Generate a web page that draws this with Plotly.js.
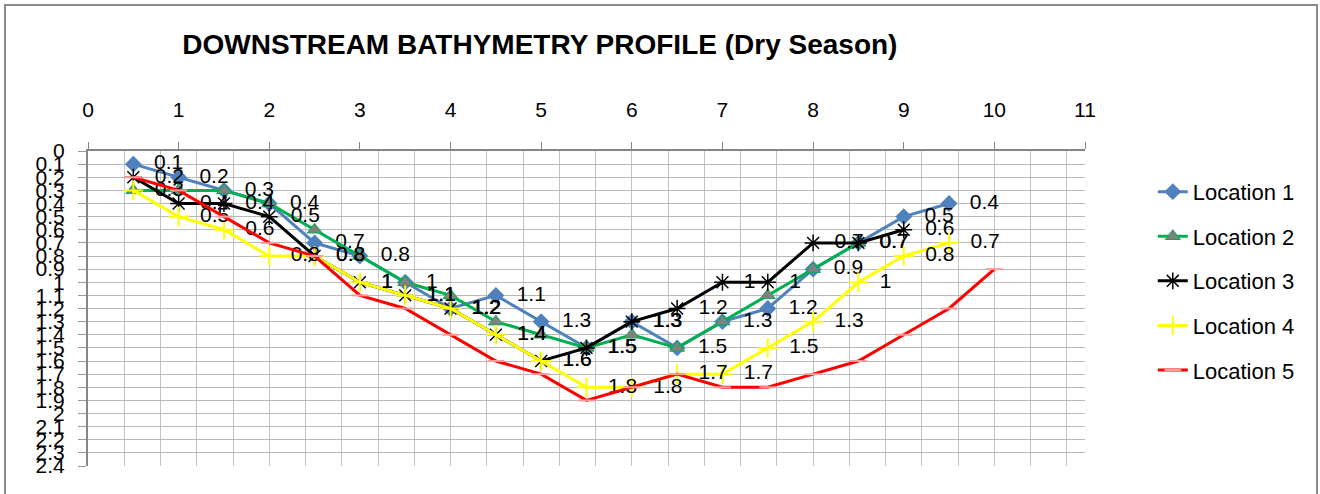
<!DOCTYPE html>
<html>
<head>
<meta charset="utf-8">
<script src="https://cdn.plot.ly/plotly-3.0.1.min.js"></script>
<style>
  body { margin: 0; background: #fff; }
  #wrap { position: relative; width: 1320px; height: 494px; overflow: hidden; }
  #chart { width: 1320px; height: 494px; }
  #frame { position: absolute; left: 4px; top: 4px; width: 1310px; height: 500px;
           border: 2px solid #8a8a8a; pointer-events: none; }
</style>
</head>
<body>
<div id="wrap"><div id="chart"></div><div id="frame"></div></div>
<script>
// Distance along the cross-section (x) and depth values (y) per location
const distances = [0.5, 1, 1.5, 2, 2.5, 3, 3.5, 4, 4.5, 5, 5.5, 6, 6.5, 7, 7.5, 8, 8.5, 9, 9.5, 10];
const location1 = [0.1, 0.2, 0.3, 0.4, 0.7, 0.8, 1.0, 1.2, 1.1, 1.3, 1.5, 1.3, 1.5, 1.3, 1.2, 0.9, 0.7, 0.5, 0.4];
const location2 = [0.3, 0.3, 0.3, 0.4, 0.6, 0.8, 1.0, 1.1, 1.3, 1.4, 1.5, 1.4, 1.5, 1.3, 1.1, 0.9, 0.7];
const location3 = [0.2, 0.4, 0.4, 0.5, 0.8, 1.0, 1.1, 1.2, 1.4, 1.6, 1.5, 1.3, 1.2, 1.0, 1.0, 0.7, 0.7, 0.6];
const location4 = [0.3, 0.5, 0.6, 0.8, 0.8, 1.0, 1.1, 1.2, 1.4, 1.6, 1.8, 1.8, 1.7, 1.7, 1.5, 1.3, 1.0, 0.8, 0.7];
const location5 = [0.2, 0.3, 0.5, 0.7, 0.8, 1.1, 1.2, 1.4, 1.6, 1.7, 1.9, 1.8, 1.7, 1.8, 1.8, 1.7, 1.6, 1.4, 1.2, 0.9];
const seriesNames = ['Location 1', 'Location 2', 'Location 3', 'Location 4', 'Location 5'];
const xTickValues = [0, 1, 2, 3, 4, 5, 6, 7, 8, 9, 10, 11];

const FONT = "'Liberation Sans', Arial, sans-serif";

function labels(vals) { return vals.map(v => '\u00a0\u00a0' + String(v)); }

function makeTrace(vals, name, lineColor, marker, withLabels, group) {
  const t = {
    type: 'scatter',
    x: distances.slice(0, vals.length),
    y: vals,
    name: name,
    legendgroup: group,
    mode: withLabels ? 'lines+markers+text' : 'lines+markers',
    line: { color: lineColor, width: 3 },
    marker: marker,
    cliponaxis: false
  };
  if (withLabels) {
    t.text = labels(vals);
    t.textposition = 'middle right';
    t.textfont = { family: FONT, size: 21, color: '#000' };
  }
  return t;
}

const traces = [
  makeTrace(location1, seriesNames[0], '#4f81bd',
    { symbol: 'diamond', size: 13, color: '#4f81bd' }, true, 'g1'),
  makeTrace(location2, seriesNames[1], '#00b050',
    { symbol: 'triangle-up', size: 13, color: '#808080', line: { color: '#00b050', width: 1 } }, false, 'g2'),
  makeTrace(location3, seriesNames[2], '#000000',
    { symbol: 'asterisk-open', size: 14, color: '#000', line: { color: '#000', width: 1.5 } }, true, 'g3'),
  makeTrace(location4, seriesNames[3], '#ffff00',
    { symbol: 'cross-thin-open', size: 14, color: '#ffff00', line: { color: '#ffff00', width: 2 } }, true, 'g4'),
  makeTrace(location5, seriesNames[4], '#ff0000',
    { symbol: 'line-ew-open', size: 12, color: '#ff9a9a', line: { color: '#ff9a9a', width: 2 } }, false, 'g5')
];

const layout = {
  width: 1320, height: 494,
  margin: { l: 88, r: 235, t: 151, b: 28 },
  paper_bgcolor: '#fff', plot_bgcolor: '#fff',
  showlegend: true,
  title: {
    text: '<b>DOWNSTREAM BATHYMETRY PROFILE (Dry Season)</b>',
    font: { family: FONT, size: 28, color: '#000' },
    xref: 'container', yref: 'container',
    x: 0.409, xanchor: 'center', y: 0.91, yanchor: 'middle'
  },
  xaxis: {
    side: 'top', range: [0, 11], tickvals: xTickValues,
    ticks: 'outside', ticklen: 7, tickcolor: '#868686', tickwidth: 1,
    showline: true, linecolor: '#868686', linewidth: 2,
    showgrid: false, zeroline: false,
    ticklabelstandoff: 17,
    tickfont: { family: FONT, size: 21, color: '#000' },
    minor: { dtick: 0.4, tick0: 0, showgrid: true, gridcolor: '#c3c3c3', gridwidth: 1, ticks: '' }
  },
  yaxis: {
    range: [2.4, 0], dtick: 0.1, tick0: 0,
    ticks: 'outside', ticklen: 8, tickcolor: '#9a9a9a',
    showline: true, linecolor: '#868686', linewidth: 2,
    showgrid: true, gridcolor: '#b8b8b8', gridwidth: 1, zeroline: false,
    ticklabelstandoff: 9,
    tickfont: { family: FONT, size: 21, color: '#000' }
  },
  legend: {
    x: 1.068, xanchor: 'left', y: 0.937, yanchor: 'top',
    font: { family: FONT, size: 22, color: '#000' },
    tracegroupgap: 13, bgcolor: 'rgba(0,0,0,0)'
  }
};

Plotly.newPlot('chart', traces, layout, { displayModeBar: false, staticPlot: true });
</script>
</body>
</html>
